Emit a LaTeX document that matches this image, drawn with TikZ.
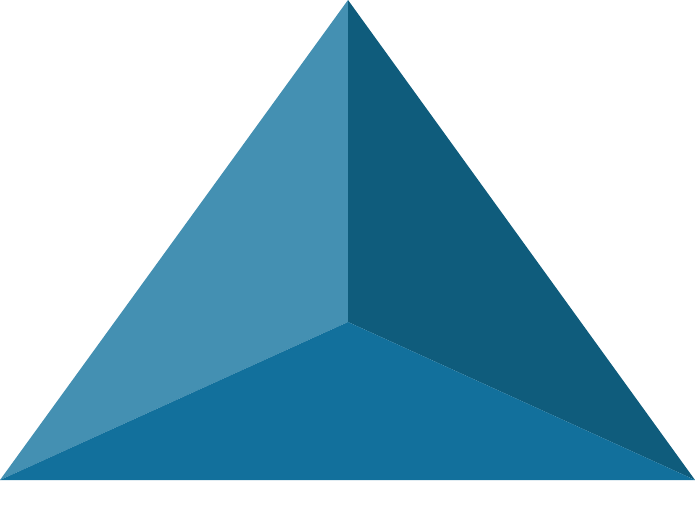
\documentclass[tikz,border=0pt]{standalone}
\usepackage{tikz}
\usepackage{xcolor}
\definecolor{faceleft}{HTML}{4490B2}
\definecolor{faceright}{HTML}{0F5C7C}
\definecolor{facebottom}{HTML}{12709C}
\tikzstyle{leftshading}=[fill=faceleft]
\tikzstyle{rightshading}=[fill=faceright]
\tikzstyle{bottomshading}=[fill=facebottom]
\begin{document}
\begin{tikzpicture}[x=0.02cm,y=0.02cm]
		\useasboundingbox (0,0) rectangle (695,525);
		\fill[leftshading] (0,45) -- (348,525) -- (348,203) -- (0,45);
		\fill[rightshading] (348,525) -- (695,45) -- (348,203) -- (348,525);
		\fill[bottomshading] (0,45) -- (348,203) -- (695,45) -- (0,45);
	\end{tikzpicture}
\end{document}
